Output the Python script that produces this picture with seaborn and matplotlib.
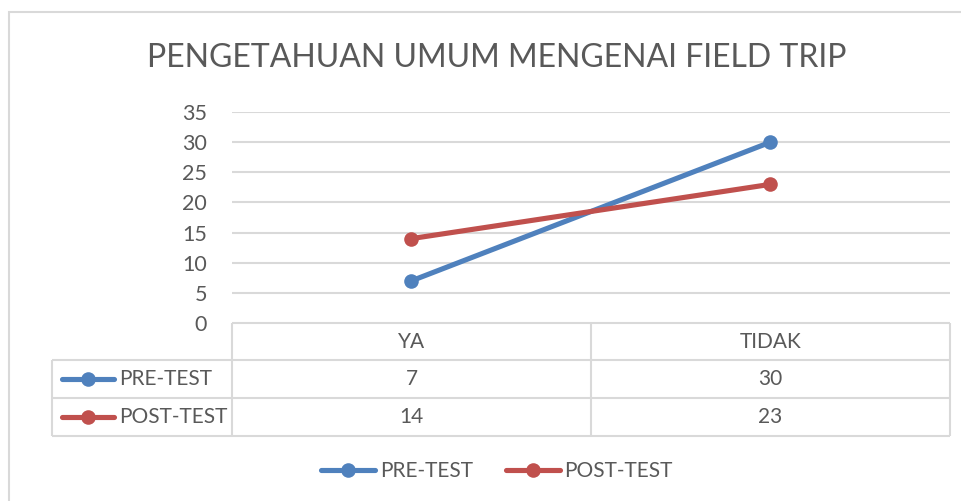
import numpy as np
import pandas as pd
import matplotlib.pyplot as plt
from matplotlib.lines import Line2D
from matplotlib.patches import Rectangle
import seaborn as sns

# data
categories = ['YA', 'TIDAK']
pre_test = [7, 30]
post_test = [14, 23]
series_names = ['PRE-TEST', 'POST-TEST']
title = 'PENGETAHUAN UMUM MENGENAI FIELD TRIP'
yticks = [0, 5, 10, 15, 20, 25, 30, 35]

colors = {'PRE-TEST': '#4F81BD', 'POST-TEST': '#C0504D'}
text_col = '#595959'
grid_col = '#D9D9D9'

df = pd.DataFrame({
    'kategori': categories * 2,
    'nilai': pre_test + post_test,
    'seri': [series_names[0]] * 2 + [series_names[1]] * 2,
})

sns.set_theme(style='white')
plt.rcParams['font.family'] = ['Lato', 'DejaVu Sans']
plt.rcParams['text.color'] = text_col

W, H = 962, 501
fig = plt.figure(figsize=(W / 100, H / 100), dpi=100)

# outer chart border (right and bottom fall outside the image)
fig.add_artist(Rectangle((9 / W, -0.1), 1.2, 1 - 12 / H + 0.1, transform=fig.transFigure,
                         fill=False, edgecolor=grid_col, lw=1.5))


def px_axes(x0, y0, x1, y1):
    return fig.add_axes([x0 / W, 1 - y1 / H, (x1 - x0) / W, (y1 - y0) / H])


# line chart
ax = px_axes(232, 112, 950, 323)
sns.lineplot(data=df, x='kategori', y='nilai', hue='seri', palette=colors, sort=False,
             marker='o', markersize=10.5, markeredgewidth=0, linewidth=3.7, ax=ax,
             solid_capstyle='round')
ax.set_xlim(-0.5, 1.5)
ax.set_ylim(0, 35)
ax.set_yticks(yticks)
ax.set_yticklabels([str(t) for t in yticks])
ax.tick_params(axis='y', labelsize=15.5, colors=text_col, length=0, pad=18)
ax.set_xticks([])
ax.set_xlabel('')
ax.set_ylabel('')
ax.yaxis.grid(True, color=grid_col, lw=1.5)
ax.set_axisbelow(True)
for s in ax.spines.values():
    s.set_visible(False)
handles, labels = ax.get_legend_handles_labels()
ax.get_legend().remove()

fig.text(497 / W, 1 - 58 / H, title, ha='center', va='center', fontsize=23, color=text_col)

# data table below the plot
tx = px_axes(40, 323, 955, 440)
tx.set_xlim(40, 955)
tx.set_ylim(440, 323)
tx.axis('off')
col_x = [52, 232, 591, 950]
row_y = [323, 360, 398, 436]
lk = dict(color=grid_col, lw=1.5, solid_capstyle='butt')
tx.plot([232, 950], [323, 323], **lk)
for y in row_y[1:]:
    tx.plot([52, 950], [y, y], **lk)
for x in col_x:
    tx.plot([x, x], [323 if x > 52 else 360, 436], **lk)

centers = [(col_x[i] + col_x[i + 1]) / 2 for i in range(1, 3)]
for c, cat in zip(centers, categories):
    tx.text(c, 342, cat, ha='center', va='center', fontsize=15, color=text_col)
for r, (name, vals) in enumerate(zip(series_names, [pre_test, post_test])):
    yc = (row_y[r + 1] + row_y[r + 2]) / 2
    tx.add_line(Line2D([62, 114], [yc, yc], color=colors[name], lw=3.7, solid_capstyle='round'))
    tx.plot([88], [yc], 'o', color=colors[name], ms=10.5, mew=0)
    tx.text(119, yc, name, ha='left', va='center', fontsize=15, color=text_col)
    for c, v in zip(centers, vals):
        tx.text(c, yc, str(v), ha='center', va='center', fontsize=15, color=text_col)

fig.legend(handles, labels, loc='center', bbox_to_anchor=(497 / W, 1 - 471 / H), ncol=2,
           frameon=False, fontsize=15, handlelength=2.6, handletextpad=0.2,
           columnspacing=1.6, labelcolor=text_col)

fig.savefig('out.png', dpi=100)
